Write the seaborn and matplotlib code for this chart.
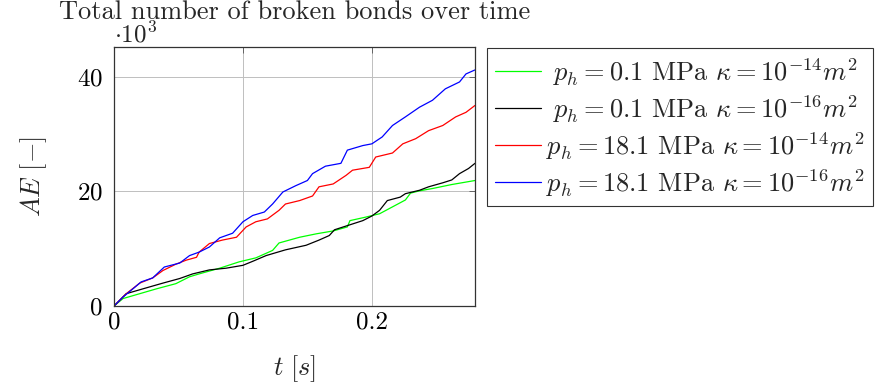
import numpy as np
import pandas as pd
import matplotlib
matplotlib.use("Agg")
import matplotlib.pyplot as plt
import seaborn as sns

# values in thousands (x10^3)
t_blue = [0, 0.007, 0.0147, 0.021, 0.030, 0.039, 0.051, 0.0586, 0.066, 0.074, 0.082, 0.092, 0.1, 0.1076, 0.1166,
          0.123, 0.131, 0.141, 0.150, 0.154, 0.164, 0.176, 0.181, 0.193, 0.2, 0.208, 0.216, 0.226, 0.237, 0.247,
          0.257, 0.268, 0.273, 0.28]
v_blue = [0, 1.57, 3.0, 4.2, 4.9, 6.8, 7.5, 8.8, 9.4, 10.3, 11.9, 12.7, 14.7, 15.8, 16.4,
          17.8, 19.9, 21.0, 21.9, 23.1, 24.4, 24.9, 27.2, 28.0, 28.3, 29.5, 31.5, 33.0, 34.7, 35.9,
          37.9, 39.1, 40.5, 41.2]

t_red = [0, 0.0095, 0.020, 0.030, 0.038, 0.048, 0.056, 0.064, 0.066, 0.074, 0.084, 0.095, 0.1025, 0.110, 0.119,
         0.128, 0.133, 0.144, 0.154, 0.159, 0.170, 0.180, 0.185, 0.198, 0.203, 0.216, 0.224, 0.234, 0.244, 0.255,
         0.265, 0.273, 0.28]
v_red = [0, 2.15, 4.0, 4.9, 6.2, 7.3, 8.0, 8.5, 9.4, 10.9, 11.5, 12.0, 13.8, 14.7, 15.2,
         16.7, 17.8, 18.4, 19.2, 20.8, 21.3, 22.8, 23.7, 24.2, 26.0, 26.7, 28.3, 29.2, 30.6, 31.5,
         33.0, 33.8, 35.0]

t_green = [0, 0.007, 0.020, 0.033, 0.048, 0.0586, 0.066, 0.082, 0.097, 0.110, 0.118, 0.123, 0.128, 0.144, 0.157,
           0.170, 0.181, 0.183, 0.195, 0.206, 0.216, 0.226, 0.230, 0.237, 0.247, 0.262, 0.28]
v_green = [0, 1.3, 2.15, 3.0, 3.9, 5.1, 5.6, 6.6, 7.7, 8.4, 9.2, 9.7, 11.0, 12.0, 12.6,
           13.1, 13.8, 14.9, 15.5, 16.1, 17.3, 18.5, 19.7, 20.1, 20.5, 21.2, 21.9]

t_black = [0, 0.0095, 0.0225, 0.038, 0.051, 0.061, 0.074, 0.087, 0.1, 0.1076, 0.118, 0.133, 0.149, 0.159, 0.167,
           0.171, 0.182, 0.193, 0.2, 0.206, 0.212, 0.222, 0.226, 0.237, 0.244, 0.255, 0.262, 0.268, 0.275, 0.28]
v_black = [0, 2.15, 3.0, 4.0, 4.8, 5.6, 6.3, 6.6, 7.1, 7.8, 8.8, 9.8, 10.6, 11.5, 12.3,
           13.3, 14.1, 14.9, 15.7, 16.7, 18.4, 19.0, 19.6, 20.2, 20.8, 21.5, 22.0, 23.1, 24.0, 24.9]

labels = [r"$\ p_h = 0.1$ MPa $\kappa = 10^{-14}m^2$",
          r"$\ p_h = 0.1$ MPa $\kappa = 10^{-16}m^2$",
          r"$p_h = 18.1$ MPa $\kappa = 10^{-14}m^2$",
          r"$p_h = 18.1$ MPa $\kappa = 10^{-16}m^2$"]
colors = ["#00ff00", "#000000", "#ff0000", "#0000ff"]
x_ticks = [0, 0.1, 0.2]
x_ticklabels = ["0", "0.1", "0.2"]
y_ticks = [0, 20, 40]

series = [(t_green, v_green), (t_black, v_black), (t_red, v_red), (t_blue, v_blue)]
frames = []
for lab, (t, v) in zip(labels, series):
    frames.append(pd.DataFrame({"t": t, "v": v, "series": lab}))
df = pd.concat(frames, ignore_index=True)

sns.set_theme(style="white")
plt.rcParams["font.family"] = "serif"
plt.rcParams["font.serif"] = ["cmr10", "DejaVu Serif"]
plt.rcParams["mathtext.fontset"] = "cm"
plt.rcParams["axes.unicode_minus"] = False
plt.rcParams["axes.formatter.use_mathtext"] = True

fig = plt.figure(figsize=(8.87, 3.87), dpi=100)
ax = fig.add_axes([114/887, 1 - 306/387, (475-114)/887, (306-47)/387])

sns.lineplot(data=df, x="t", y="v", hue="series", hue_order=labels,
             palette=dict(zip(labels, colors)), ax=ax, linewidth=0.9,
             sort=False, estimator=None, legend=True)

ax.set_xlim(0, 0.28)
ax.set_ylim(0, 45.2)
ax.set_xticks(x_ticks)
ax.set_xticklabels(x_ticklabels)
ax.set_yticks(y_ticks)
ax.grid(True, color="#bfbfbf", linewidth=0.7)
ax.tick_params(direction="in", length=4, width=0.6, colors="#555555", labelcolor="black",
               labelsize=18, top=True, right=True)
ax.tick_params(axis="x", pad=4)
ax.tick_params(axis="y", pad=8)
for s in ax.spines.values():
    s.set_color("#333333")
    s.set_linewidth(0.9)

ax.set_xlabel(r"$t\ [s]$", fontsize=19, labelpad=14)
ax.set_ylabel(r"$AE\ [-]$", fontsize=19, labelpad=20)
ax.set_title("Total number of broken bonds over time", fontsize=19, pad=20)
ax.text(0.0, 1.0, r"$\cdot10^3$", transform=ax.transAxes, fontsize=18, ha="left", va="bottom")

handles, labs = ax.get_legend_handles_labels()
leg = fig.legend(handles, labs, loc="upper left", bbox_to_anchor=(487/887, 1 - 48/387),
                 fontsize=19, frameon=True, fancybox=False, edgecolor="black",
                 handlelength=1.75, handletextpad=0.2, labelspacing=0.2, borderpad=0.3,
                 borderaxespad=0)
leg.get_frame().set_linewidth(0.8)
if ax.get_legend():
    ax.get_legend().remove()

fig.savefig("out.png", dpi=100)
